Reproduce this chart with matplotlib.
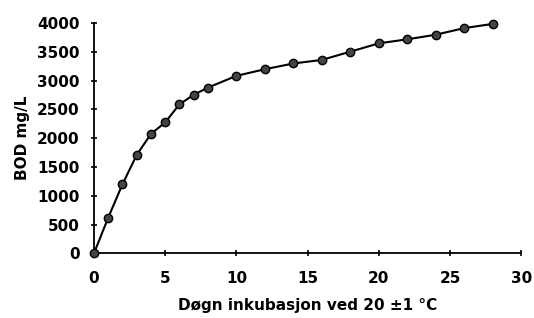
import matplotlib
matplotlib.use('Agg')
import matplotlib.pyplot as plt

days = [0, 1, 2, 3, 4, 5, 6, 7, 8, 10, 12, 14, 16, 18, 20, 22, 24, 26, 28]
bod = [0, 620, 1200, 1710, 2075, 2275, 2590, 2755, 2880, 3085, 3200, 3300, 3362, 3505, 3650, 3720, 3800, 3915, 3988]

plt.rcParams['font.family'] = 'DejaVu Sans'
plt.rcParams['font.weight'] = 'bold'

fig = plt.figure(figsize=(5.34, 3.18), dpi=100)
ax = fig.add_axes([0.176, 0.2035, 0.8, 0.7235])

ax.plot(days, bod, color='black', linewidth=1.5, marker='o', markersize=6,
        markerfacecolor='#444444', markeredgecolor='black', markeredgewidth=1, zorder=3,
        clip_on=False)

ax.set_xlim(0, 30)
ax.set_ylim(0, 4000)
ax.set_xticks(range(0, 31, 5))
ax.set_yticks(range(0, 4001, 500))

for s in ['top', 'right']:
    ax.spines[s].set_visible(False)
for s in ['left', 'bottom']:
    ax.spines[s].set_linewidth(1.3)

ax.tick_params(direction='inout', length=5, width=1.2, labelsize=11, pad=8)
ax.tick_params(axis='x', pad=10)

ax.set_ylabel('BOD mg/L', fontsize=11, fontweight='bold', labelpad=5)
ax.set_xlabel('Døgn inkubasjon ved 20 ±1 °C', fontsize=11, fontweight='bold', labelpad=9)

fig.savefig('out.png', dpi=100)
